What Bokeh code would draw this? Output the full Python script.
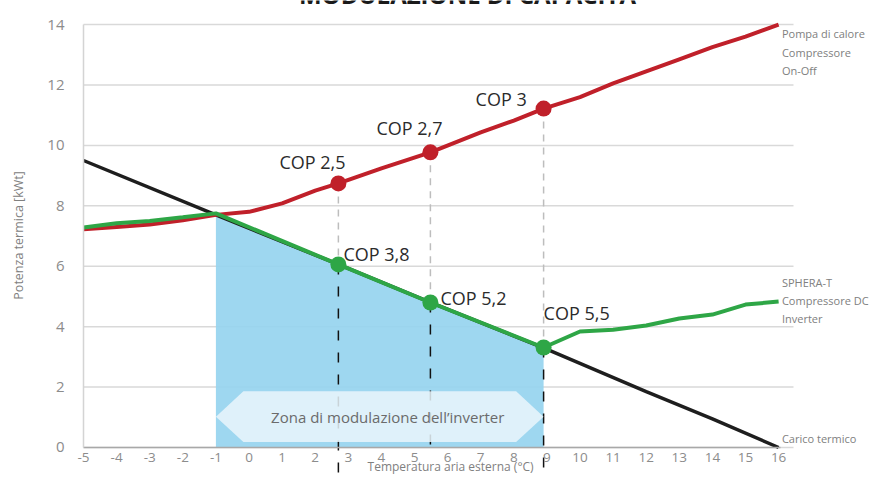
import math
from bokeh.plotting import figure
from bokeh.models import Range1d, Label, FixedTicker, PolyAnnotation
from bokeh.embed import file_html
from bokeh.resources import INLINE

# ---------------- data ----------------
x_ticks = list(range(-5, 17))
y_ticks = list(range(0, 15, 2))

# Pompa di calore - compressore On-Off
red_x = [-5, -4, -3, -2, -1, 0, 1, 2, 2.7, 4, 5.48, 7, 8, 8.9, 10, 11, 12, 13, 14, 15, 16]
red_y = [7.22, 7.3, 7.38, 7.52, 7.7, 7.8, 8.08, 8.5, 8.74, 9.24, 9.77, 10.43, 10.82, 11.22,
         11.6, 12.05, 12.45, 12.85, 13.25, 13.6, 14.0]

# SPHERA-T - compressore DC inverter
green_x = [-5, -4, -3, -2, -1, 2.7, 5.48, 8.9, 10, 11, 12, 13, 14, 15, 16]
green_y = [7.28, 7.42, 7.5, 7.62, 7.75, 6.06, 4.80, 3.31, 3.84, 3.9, 4.04, 4.27, 4.40, 4.73, 4.83]

# Carico termico
load_x = [-5, -1, 2.7, 5.48, 8.9, 12, 14, 16]
load_y = [9.5, 7.7, 6.06, 4.8, 3.3, 1.85, 0.95, 0.0]

# COP points
cop_x = [2.7, 5.48, 8.9]
cop_red = [8.74, 9.77, 11.22]
cop_green = [6.06, 4.80, 3.31]
cop_red_labels = ["COP 2,5", "COP 2,7", "COP 3"]
cop_green_labels = ["COP 3,8", "COP 5,2", "COP 5,5"]
dash_bottom = [-1.0, 0.0, -1.0]

zone_start = -1.0
zone_end = 8.9
x_end = 16.45

# ---------------- figure ----------------
FONT = "Open Sans"
p = figure(width=869, height=476, output_backend="svg", toolbar_location=None,
           x_range=Range1d(-7.508, 18.746), y_range=Range1d(-0.960, 14.796),
           min_border=0, min_border_left=0, min_border_right=0,
           min_border_top=0, min_border_bottom=0)
p.outline_line_color = None
p.background_fill_color = "white"
p.border_fill_color = "white"

# axes (placed inside the frame at data locations)
p.xaxis.fixed_location = 0
p.xaxis.ticker = FixedTicker(ticks=x_ticks)
p.xaxis.major_label_overrides = {t: str(t) for t in x_ticks}
p.xaxis.bounds = (-5, 16.05)
p.xaxis.axis_line_color = "#a8a8a8"
p.xaxis.axis_line_width = 1.5
p.xaxis.major_tick_line_color = None
p.xaxis.minor_tick_line_color = None
p.xaxis.major_label_standoff = 0
p.xaxis.major_label_text_font = FONT
p.xaxis.major_label_text_font_size = "13.5px"
p.xaxis.major_label_text_color = "#8c8c8c"

p.yaxis.fixed_location = -5
p.yaxis.ticker = FixedTicker(ticks=y_ticks)
p.yaxis.bounds = (0, 14)
p.yaxis.axis_line_color = "#d4d4d4"
p.yaxis.axis_line_width = 1.5
p.yaxis.major_tick_line_color = None
p.yaxis.minor_tick_line_color = None
p.yaxis.major_label_standoff = 13
p.yaxis.major_label_text_font = FONT
p.yaxis.major_label_text_font_size = "15px"
p.yaxis.major_label_text_color = "#8c8c8c"

p.xgrid.visible = False
p.ygrid.visible = False

# horizontal grid lines over the plotting area
p.segment(x0=[-5] * len(y_ticks), y0=y_ticks, x1=[x_end] * len(y_ticks), y1=y_ticks,
          line_color="#d9d9d9", line_width=1.5)

# blue modulation area (from the green series inside the zone)
zx = [x for x in green_x if zone_start <= x <= zone_end]
zy = [y for x, y in zip(green_x, green_y) if zone_start <= x <= zone_end]
p.varea(x=zx, y1=[0] * len(zx), y2=zy, fill_color="#96d4ef", fill_alpha=0.92)

# dashed guides
p.segment(x0=cop_x, y0=cop_green, x1=cop_x, y1=dash_bottom,
          line_color="#111111", line_width=1.5, line_dash="10 12")
p.segment(x0=cop_x, y0=cop_red, x1=cop_x, y1=cop_green,
          line_color="#bdbdbd", line_width=1.5, line_dash="7 6")

# inverter zone arrow
ah = 0.83
yc, yh = 1.02, 0.84
hexagon = PolyAnnotation(
    xs=[zone_start, zone_start + ah, zone_end - ah, zone_end, zone_end - ah, zone_start + ah],
    ys=[yc, yc + yh, yc + yh, yc, yc - yh, yc - yh],
    fill_color="#eaf6fc", fill_alpha=0.85, line_color=None)
p.add_layout(hexagon)
p.add_layout(Label(x=(zone_start + zone_end) / 2, y=yc, x_offset=8,
                   text="Zona di modulazione dell\u2019inverter",
                   text_font=FONT, text_font_size="15px", text_color="#6b6b6b",
                   text_align="center", text_baseline="middle"))

# series lines
p.line(load_x, load_y, line_color="#1e1e1e", line_width=3.5)
p.line(red_x, red_y, line_color="#c0202a", line_width=4)
p.line(green_x, green_y, line_color="#2ea646", line_width=4)

p.scatter(cop_x, cop_red, size=16, fill_color="#c0202a", line_color=None)
p.scatter(cop_x, cop_green, size=16, fill_color="#2ea646", line_color=None)

# COP labels
red_off = [(-59, 21), (-54, 24), (-68, 10)]
green_off = [(5, 10), (10, 4), (0, 35)]
for xv, yv, t, (dx, dy) in zip(cop_x, cop_red, cop_red_labels, red_off):
    p.add_layout(Label(x=xv, y=yv, x_offset=dx, y_offset=dy, text=t, text_font=FONT,
                       text_font_size="18px", text_color="#2b2b2b",
                       text_align="left", text_baseline="middle"))
for xv, yv, t, (dx, dy) in zip(cop_x, cop_green, cop_green_labels, green_off):
    p.add_layout(Label(x=xv, y=yv, x_offset=dx, y_offset=dy, text=t, text_font=FONT,
                       text_font_size="18px", text_color="#2b2b2b",
                       text_align="left", text_baseline="middle"))

# series names on the right
def side_label(lines, x, y, dy):
    for i, t in enumerate(lines):
        p.add_layout(Label(x=x, y=y, y_offset=-i * dy, text=t, text_font=FONT,
                           text_font_size="11px", text_color="#808080",
                           text_align="left", text_baseline="middle"))

side_label(["Pompa di calore", "Compressore", "On-Off"], 16.1, 13.7, 18.5)
side_label(["SPHERA-T", "Compressore DC", "Inverter"], 16.1, 5.46, 18)
side_label(["Carico termico"], 16.1, 0.3, 18)

# axis titles
p.add_layout(Label(x=6.09, y=-0.894, y_offset=8, text="Temperatura aria esterna (\u00b0C)",
                   text_font=FONT, text_font_size="12px", text_color="#808080",
                   text_align="center", text_baseline="alphabetic"))
p.add_layout(Label(x=-6.96, y=7.02, angle=math.pi / 2, text="Potenza termica [kWt]",
                   text_font=FONT, text_font_size="12.5px", text_color="#808080",
                   text_align="center", text_baseline="middle"))

# chart title (cut off at the top, as in the original)
p.add_layout(Label(x=6.6, y=14.66, y_offset=10, text="MODULAZIONE DI CAPACIT\u00c0",
                   text_font=FONT, text_font_size="24px", text_font_style="bold",
                   text_color="#1a1a1a", text_align="center", text_baseline="alphabetic"))

open("out.html", "w").write(file_html(p, INLINE))
